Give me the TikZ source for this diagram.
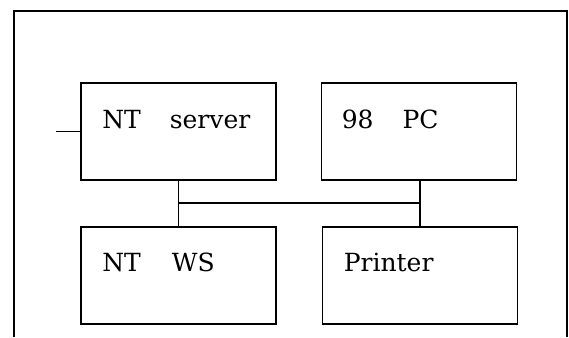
\documentclass[tikz,border=0pt]{standalone}
\usepackage{fontspec}
\setmainfont{DejaVu Serif}
\usepackage{tikz}
\usetikzlibrary{positioning}

\begin{document}
\begin{tikzpicture}[x=1pt, y=-1pt,
			box/.style={draw, line width=1.8pt, minimum width=195pt, minimum height=97pt, inner sep=0pt},
			lbl/.style={anchor=base west, inner sep=0pt, font=\fontsize{25}{30}\selectfont},
			line/.style={draw, line width=1.4pt}]
			\useasboundingbox (0,0) rectangle (569,337);
			% Rahmen (unten offen)
			\draw[line width=1.5pt] (14,337) -- (14,11) -- (567,11) -- (567,337);
			% Kaesten
			\node[box] (srv) at (178.5,131.5) {};
			\node[box] (pc) at (419,131.5) {};
			\node[box] (ws) at (178.5,275.5) {};
			\node[box] (prn) at (420,275.5) {};
			% Beschriftung
			\node[lbl] (srvtxt) at ([xshift=22pt,yshift=-46pt]srv.north west) {NT\hspace{29pt}server};
			\node[lbl] (pctxt) at ([xshift=21pt,yshift=-46pt]pc.north west) {98\hspace{29pt}PC};
			\node[lbl] (wstxt) at ([xshift=22pt,yshift=-45pt]ws.north west) {NT\hspace{31pt}WS};
			\node[lbl] (prntxt) at ([xshift=22pt,yshift=-45pt]prn.north west) {Printer};
			% Verbindungen
			\coordinate (stub) at (56,131.5);
			\coordinate (jl) at (178.5,203);
			\coordinate (jr) at (420,203);
			\path[line] (stub) -- (srv.west);
			\path[line] (srv.south) -- (jl) -- (ws.north);
			\path[line] (pc.south -| jr) -- (jr) -- (prn.north);
			\path[line] (jl) -- (jr);
		\end{tikzpicture}
\end{document}
